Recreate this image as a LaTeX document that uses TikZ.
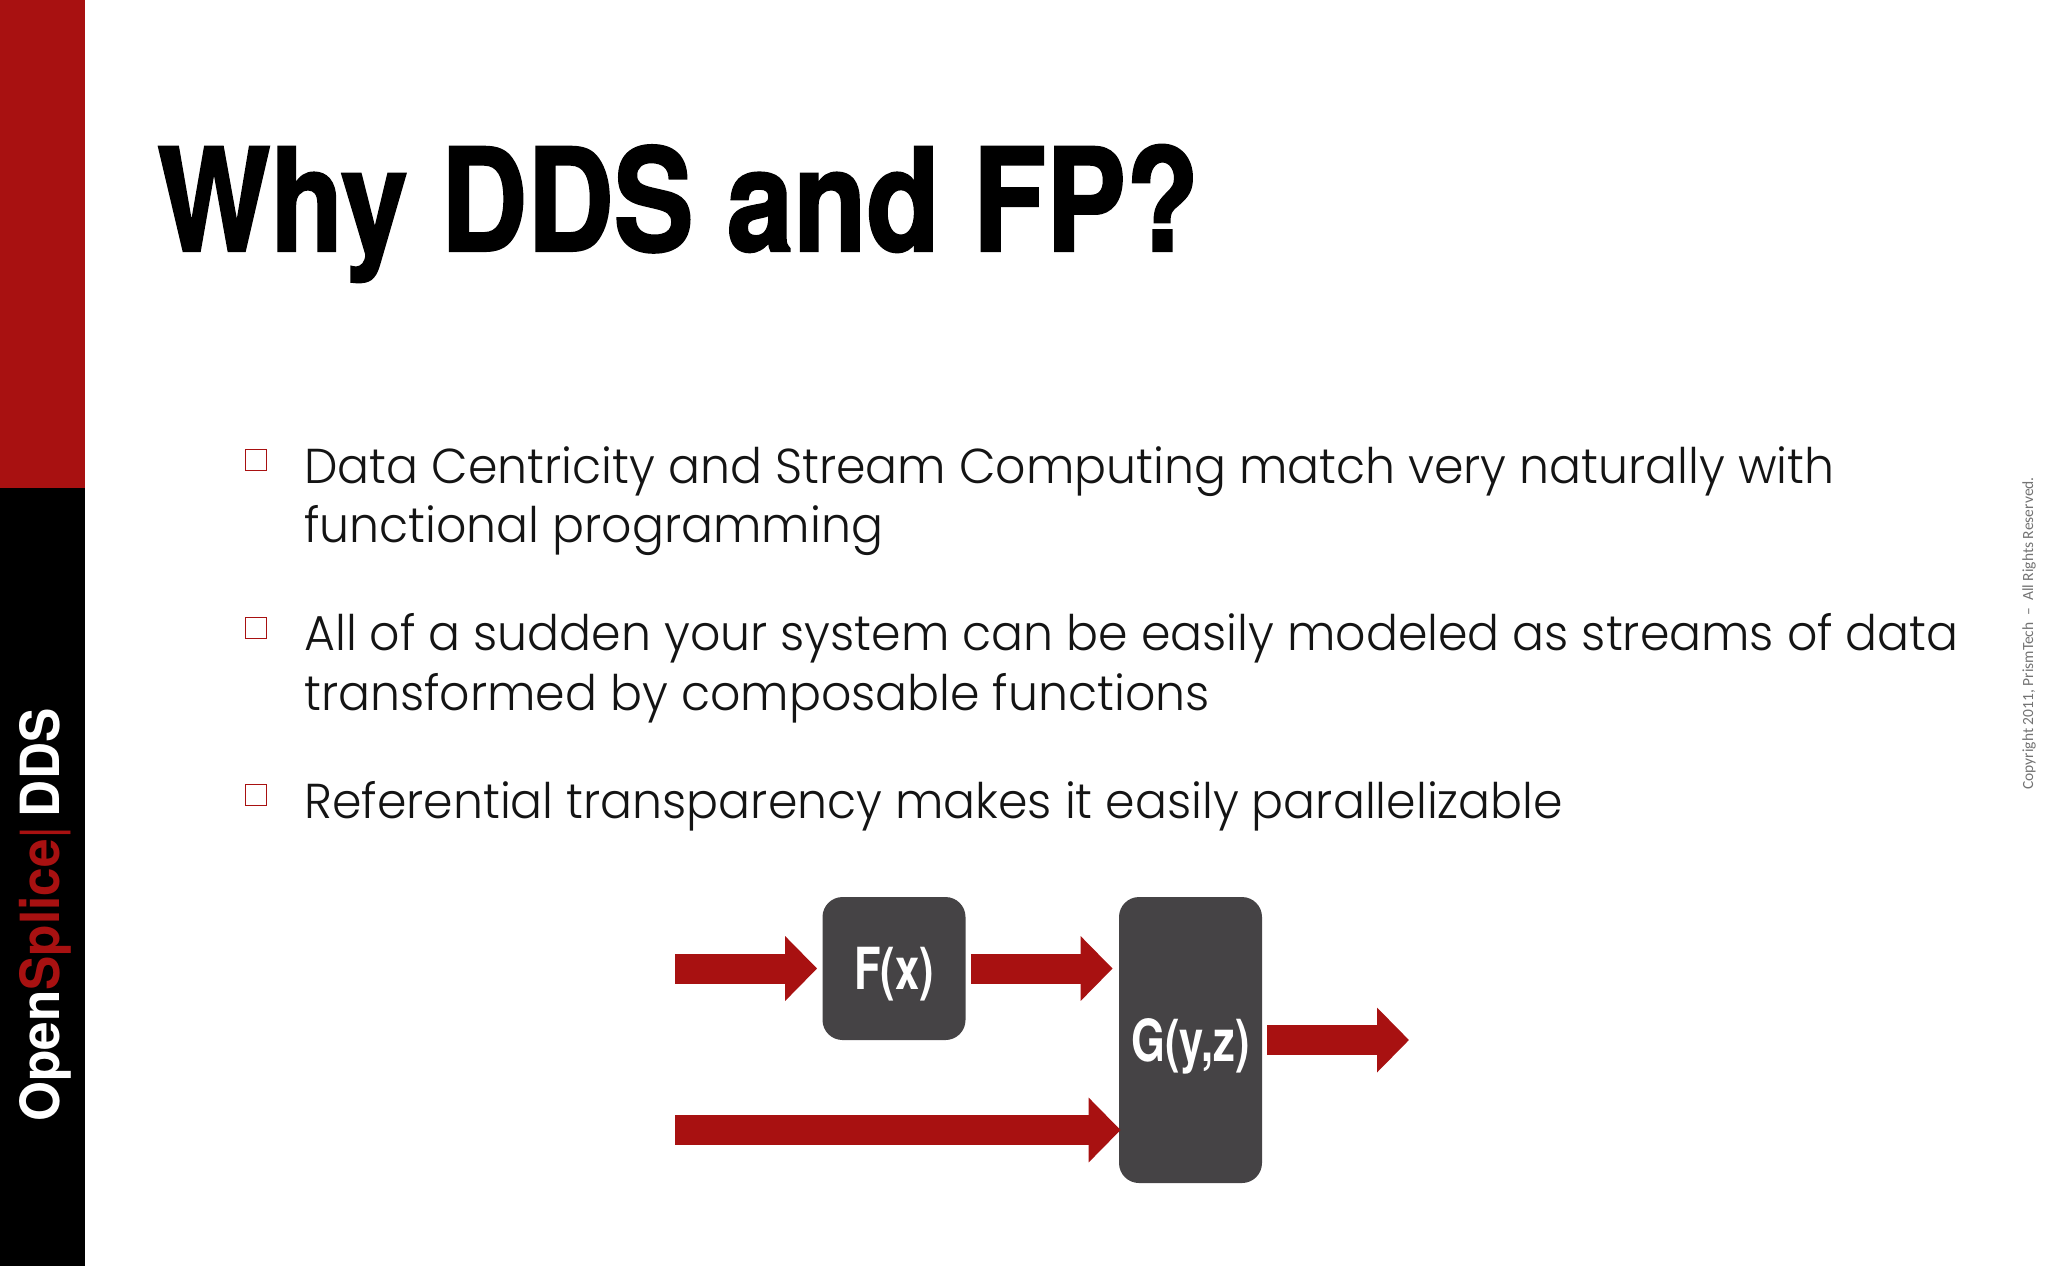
\documentclass[tikz,border=0pt]{standalone}
\usepackage{fontspec}
\setmainfont[FakeStretch=0.967]{Poppins Light}
\newfontfamily\titlefont[FakeStretch=0.837,FakeBold=1.5]{TeX Gyre Heros}
\newfontfamily\boxfont[FakeStretch=0.75]{TeX Gyre Heros}
\newfontfamily\sidefont[FakeStretch=0.95]{TeX Gyre Heros}
\newfontfamily\notefont{Carlito}
\usetikzlibrary{arrows.meta}
\definecolor{ddsred}{HTML}{A81111}
\definecolor{boxgray}{HTML}{454345}
\tikzset{
    flow/.style={draw=ddsred,line width=15pt,-{Triangle[length=16pt,width=31.5pt]}},
    funcbox/.style={fill=boxgray,rounded corners=10pt,inner sep=0pt,minimum width=71.5pt,text=white,text height=21pt,text depth=0pt,font=\boxfont\bfseries\fontsize{29}{29}\selectfont},
    bulletbox/.style={draw=ddsred,line width=0.7pt,minimum size=10.5pt,inner sep=0pt},
    itemtext/.style={anchor=base west,inner sep=0pt,text=black!92,font=\fontsize{24.5}{29}\selectfont}
}
\begin{document}
\begin{tikzpicture}[x=0.5pt,y=-0.5pt]
\useasboundingbox (0,0) rectangle (2048,1266);
\fill[ddsred] (0,0) rectangle (85,488);
\fill[black] (0,488) rectangle (85,1266);
\node[anchor=base west,inner sep=0pt,rotate=90,font=\sidefont\bfseries\fontsize{27}{27}\selectfont] (brand) at (59,1122)
    {\textcolor{white}{Open}\textcolor{ddsred}{Splice}\textcolor{ddsred}{\mdseries|}\textcolor{white}{\,DDS}};
\node[anchor=base west,inner sep=0pt,font=\titlefont\bfseries\fontsize{71.5}{73}\selectfont] (title) at (157,251) {Why DDS and FP?};
\node[bulletbox] (b1) at (256,460) {};
\node[itemtext] (l1) at (304,483) {Data Centricity and Stream Computing match very naturally with};
\node[itemtext] (l2) at (304,542) {functional programming};
\node[bulletbox] (b2) at (256,628) {};
\node[itemtext] (l3) at (304,650) {All of a sudden your system can be easily modeled as streams of data};
\node[itemtext] (l4) at (304,710) {transformed by composable functions};
\node[bulletbox] (b3) at (256,795) {};
\node[itemtext] (l5) at (304,818) {Referential transparency makes it easily parallelizable};
\node[anchor=base west,inner sep=0pt,rotate=90,text=black!55,font=\notefont\fontsize{7.75}{8}\selectfont] (copy) at (2033,790) {Copyright 2011, PrismTech\ \ –\ \ All Rights Reserved.};
\node[funcbox,minimum height=71.5pt] (fx) at (894,968.5) {F(x)};
\node[funcbox,minimum height=143pt] (gyz) at (1190.5,1040) {G(y,z)};
\coordinate (in1) at (675,968.5);
\coordinate (in2) at (675,1130);
\coordinate (out) at (1409,1040);
\draw[flow,shorten >=2.5pt] (in1) -- (fx.west);
\draw[flow,shorten <=2.5pt,shorten >=3pt] (fx.east) -- (fx.east -| gyz.west);
\draw[flow,shorten >=-1pt] (in2) -- (in2 -| gyz.west);
\draw[flow,shorten <=2.5pt] (gyz.east) -- (out);
\end{tikzpicture}
\end{document}
